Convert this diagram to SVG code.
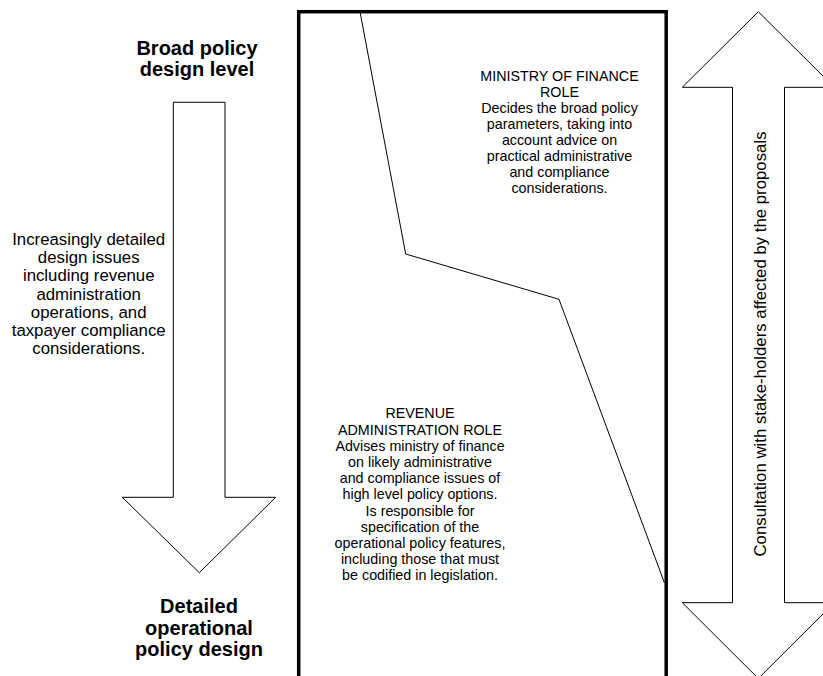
<svg xmlns="http://www.w3.org/2000/svg" width="823" height="676" viewBox="0 0 823 676">
  <style>
    .arrow { fill: #ffffff; stroke: #000000; stroke-width: 1; stroke-linejoin: miter; }
    .frame { fill: none; stroke: #000000; stroke-width: 3.5; }
    .divider { fill: none; stroke: #000000; stroke-width: 1; }
    .heading { font-family: "Liberation Sans", Arial, sans-serif; font-size: 20px; font-weight: bold; fill: #000000; text-anchor: middle; }
    .note { font-family: "Liberation Sans", Arial, sans-serif; font-size: 16.8px; fill: #000000; text-anchor: middle; }
    .role { font-family: "Liberation Sans", Arial, sans-serif; font-size: 14.3px; fill: #000000; text-anchor: middle; }
  </style>
  <rect width="823" height="676" fill="#ffffff"/>

  <!-- Left: policy design level arrow -->
  <g id="level-arrow">
    <polygon class="arrow" points="173.3,102.3 225,102.3 225,497.3 275.7,497.3 199.3,572.7 122.3,497.3 173.3,497.3"/>
    <text class="heading" x="197" y="55">Broad policy</text>
    <text class="heading" x="197" y="76">design level</text>
    <text class="heading" x="199" y="613">Detailed</text>
    <text class="heading" x="199" y="634.5">operational</text>
    <text class="heading" x="199" y="656">policy design</text>
  </g>

  <g id="level-note">
    <text class="note" x="88.7" y="245">Increasingly detailed</text>
    <text class="note" x="88.7" y="263.2">design issues</text>
    <text class="note" x="88.7" y="281.4">including revenue</text>
    <text class="note" x="88.7" y="299.6">administration</text>
    <text class="note" x="88.7" y="317.8">operations, and</text>
    <text class="note" x="88.7" y="336">taxpayer compliance</text>
    <text class="note" x="88.7" y="354.2">considerations.</text>
  </g>

  <!-- Centre: roles frame split by a boundary line -->
  <g id="roles-frame">
    <rect class="frame" x="298.7" y="11.7" width="367.5" height="690"/>
  </g>

  <g id="connectors">
    <polyline class="divider" points="360,11.7 405.7,254 559,299.3 664.5,583"/>
  </g>

  <g id="ministry-role">
    <text class="role" x="559.5" y="81">MINISTRY OF FINANCE</text>
    <text class="role" x="559.5" y="97">ROLE</text>
    <text class="role" x="559.5" y="113">Decides the broad policy</text>
    <text class="role" x="559.5" y="129">parameters, taking into</text>
    <text class="role" x="559.5" y="145">account advice on</text>
    <text class="role" x="559.5" y="161">practical administrative</text>
    <text class="role" x="559.5" y="177">and compliance</text>
    <text class="role" x="559.5" y="193">considerations.</text>
  </g>

  <g id="revenue-role">
    <text class="role" x="420" y="418.3">REVENUE</text>
    <text class="role" x="420" y="434.5">ADMINISTRATION ROLE</text>
    <text class="role" x="420" y="450.7">Advises ministry of finance</text>
    <text class="role" x="420" y="466.9">on likely administrative</text>
    <text class="role" x="420" y="483.1">and compliance issues of</text>
    <text class="role" x="420" y="499.3">high level policy options.</text>
    <text class="role" x="420" y="515.5">Is responsible for</text>
    <text class="role" x="420" y="531.7">specification of the</text>
    <text class="role" x="420" y="547.9">operational policy features,</text>
    <text class="role" x="420" y="564.1">including those that must</text>
    <text class="role" x="420" y="580.3">be codified in legislation.</text>
  </g>

  <!-- Right: two-way consultation arrow -->
  <g id="consultation-arrow">
    <polygon class="arrow" points="758.3,11.7 834.3,87.3 784.5,87.3 784.5,602.7 834.3,602.7 758.3,678.5 682.3,602.7 732.5,602.7 732.5,87.3 682.3,87.3"/>
    <text class="note" transform="translate(766,344) rotate(-90)" x="0" y="0">Consultation with stake-holders affected by the proposals</text>
  </g>
</svg>
